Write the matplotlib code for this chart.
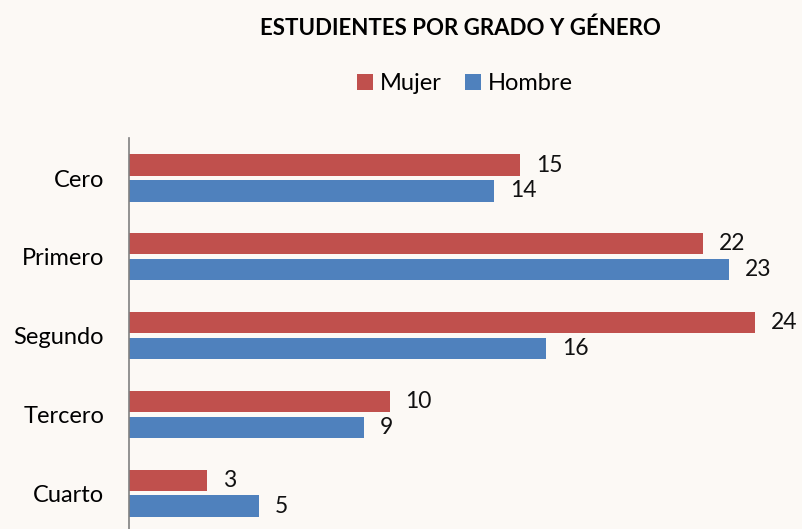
import matplotlib.pyplot as plt
import numpy as np

grados = ['Cero', 'Primero', 'Segundo', 'Tercero', 'Cuarto']
mujer = [15, 22, 24, 10, 3]
hombre = [14, 23, 16, 9, 5]

rojo = '#C0504D'
azul = '#4F81BD'
fondo = '#FCF9F5'

plt.rcParams['font.family'] = ['Lato', 'DejaVu Sans']

fig = plt.figure(figsize=(8.02, 5.29), dpi=100, facecolor=fondo)
ax = fig.add_axes([129 / 802, 0, (781 - 129) / 802, 1 - 138 / 529])
ax.set_facecolor(fondo)

y = np.arange(len(grados))
alto = 0.267
b1 = ax.barh(y - 0.165, mujer, height=alto, color=rojo, label='Mujer')
b2 = ax.barh(y + 0.165, hombre, height=alto, color=azul, label='Hombre')

for barras, vals in [(b1, mujer), (b2, hombre)]:
    for b, v in zip(barras, vals):
        ax.text(b.get_width() + 0.6, b.get_y() + b.get_height() / 2, str(v),
                va='center', ha='left', fontsize=16.5, color='#111111')

ax.set_xlim(0, 25)
ax.set_ylim(4.457, -0.508)
ax.set_yticks(y)
ax.set_yticklabels(grados, fontsize=17)
ax.tick_params(axis='y', length=0, pad=18)
ax.set_xticks([])
for s in ['top', 'right', 'bottom']:
    ax.spines[s].set_visible(False)
ax.spines['left'].set_color('#808080')
ax.spines['left'].set_linewidth(1.2)

fig.text(0.574, 1 - 28 / 529, 'ESTUDIENTES POR GRADO Y GÉNERO', ha='center', va='center',
         fontsize=16, fontweight='bold')
fig.legend(handles=[b1, b2], loc='center', bbox_to_anchor=(0.58, 1 - 84 / 529), ncol=2,
           frameon=False, fontsize=17, handlelength=0.65, handleheight=0.65,
           handletextpad=0.3, columnspacing=1.0)

fig.savefig('out.png', dpi=100, facecolor=fondo)
